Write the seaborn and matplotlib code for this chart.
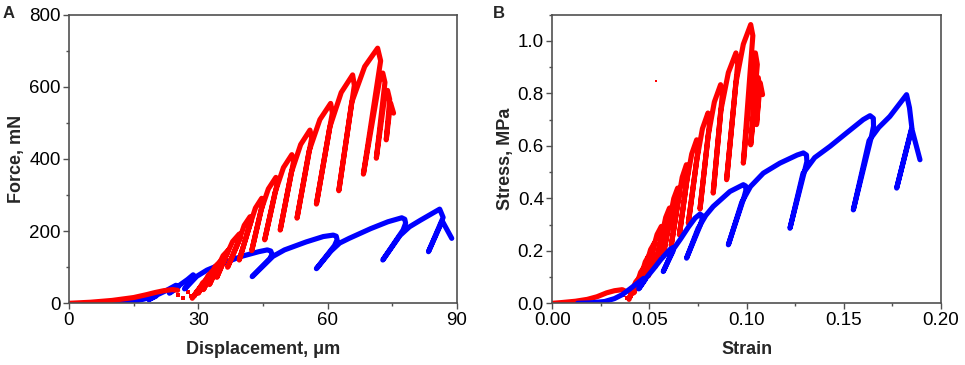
import matplotlib
matplotlib.use("Agg")
import matplotlib.pyplot as plt
from matplotlib.ticker import MultipleLocator
import seaborn as sns

# ---------------- Panel A: force vs displacement ----------------
# red sample, initial toe region
disp_red_low = [0, 5, 10, 15, 18, 20, 22, 24, 25.2]
force_red_low = [0, 3, 8, 16, 24, 30, 35, 38, 36]
# red scattered points
disp_red_dots = [25.4, 26.4, 27.5, 28.3]
force_red_dots = [23, 14, 30, 20]
# red sawtooth (peak / unload / reload)
disp_red = [28.6, 29.6, 30.5, 29.0, 30.2, 31.0, 31.8, 30.0, 31.4, 32.3, 33.2, 31.2, 32.8,
            33.9, 35.0, 32.6, 34.5, 35.75, 37.0, 34.3, 36.4, 37.95, 39.5, 39.8, 36.8, 39.3,
            40.65, 42.0, 42.3, 39.5, 41.8, 43.25, 44.7, 45.0, 42.4, 44.5, 46.25, 48.0, 48.35,
            45.4, 47.8, 49.75, 51.7, 52.1, 49.0, 51.6, 53.75, 55.9, 56.3, 52.9, 55.7, 58.2,
            60.7, 61.1, 57.4, 60.5, 63.15, 65.8, 66.2, 62.6, 65.6, 68.6, 71.6, 72.3, 68.3,
            72.0, 72.8, 73.3, 71.3, 73.1, 73.9, 74.4, 73.6, 74.6, 75.3]
force_red = [14, 32, 45, 20, 40, 56.5, 65, 28, 57, 77.5, 88, 38, 77,
             102, 115, 52, 101, 132, 148, 72, 130, 171, 192, 184, 100, 169,
             216, 240, 230, 120, 211, 264, 291, 279, 146, 256, 317, 349, 334,
             176, 307, 376, 412, 393, 203, 363, 440, 480, 458, 236, 422, 509,
             554, 528, 275, 488, 584, 633, 604, 312, 557, 656, 707, 672, 358,
             615, 638, 612, 402, 560, 590, 565, 453, 555, 527]
# blue sample
disp_blue = [9, 12, 15, 17.5, 19.5, 20.2, 18.5, 20.2, 22.5, 24.8, 25.4, 23.3, 25.4, 27.5,
             28.8, 29.4, 26.8, 29.4, 32, 36, 40, 44, 46, 46.8, 47.1, 46.6, 42.5, 45.6, 47.3,
             50, 55, 59, 61.3, 62.0, 62.2, 61.6, 57.4, 60.8, 62.8, 65, 70, 74, 77.2, 77.9,
             78.1, 77.5, 72.8, 76.8, 79, 81.5, 86.0, 86.8, 83.4, 86.6, 88.8]
force_blue = [0, 1, 5, 12, 22, 20, 10, 22, 35, 50, 46, 28, 48, 66,
              79, 72, 40, 73, 92, 112, 130, 143, 148, 145, 136, 124, 74, 110, 130,
              148, 170, 185, 189, 186, 176, 160, 96, 145, 167, 180, 207, 226, 237, 233,
              222, 203, 120, 188, 212, 230, 261, 238, 143, 228, 180]

# ---------------- Panel B: stress vs strain ----------------
strain_red_low = [0, 0.005, 0.012, 0.018, 0.023, 0.028, 0.032, 0.036, 0.038]
stress_red_low = [0, 0.003, 0.008, 0.015, 0.025, 0.040, 0.048, 0.052, 0.045]
strain_red_dots = [0.0365, 0.0383, 0.0395]
stress_red_dots = [0.032, 0.022, 0.018]
strain_red_stray = [0.0532]
stress_red_stray = [0.846]
strain_red = [0.0395, 0.0410, 0.0420, 0.0400, 0.0415, 0.0430, 0.0445, 0.0420, 0.0440, 0.04545,
              0.0470, 0.0442, 0.0463, 0.04785, 0.0494, 0.0465, 0.0487, 0.0506, 0.0525, 0.0495,
              0.0517, 0.0539, 0.0561, 0.0570, 0.0530, 0.0564, 0.05835, 0.0603, 0.0612, 0.0570,
              0.0605, 0.0625, 0.0645, 0.0654, 0.0612, 0.0647, 0.06685, 0.0690, 0.0699, 0.0654,
              0.0692, 0.07175, 0.0743, 0.0752, 0.0700, 0.0744, 0.07725, 0.0801, 0.0810, 0.0760,
              0.0802, 0.0834, 0.0866, 0.0875, 0.0828, 0.0867, 0.0906, 0.0945, 0.0954, 0.0897,
              0.0945, 0.0983, 0.1021, 0.1032, 0.0983, 0.1030, 0.1045, 0.1055, 0.1021, 0.1050,
              0.1060, 0.1065, 0.1051, 0.1070, 0.1082]
stress_red = [0.015, 0.045, 0.065, 0.025, 0.057, 0.082, 0.095, 0.040, 0.084, 0.118,
              0.135, 0.060, 0.119, 0.158, 0.178, 0.080, 0.157, 0.205, 0.229, 0.105,
              0.202, 0.262, 0.293, 0.280, 0.140, 0.258, 0.327, 0.363, 0.347, 0.180,
              0.320, 0.399, 0.439, 0.419, 0.220, 0.386, 0.480, 0.528, 0.504, 0.261,
              0.465, 0.569, 0.623, 0.595, 0.305, 0.548, 0.665, 0.725, 0.692, 0.359,
              0.638, 0.767, 0.833, 0.796, 0.420, 0.733, 0.879, 0.954, 0.911, 0.471,
              0.840, 0.987, 1.062, 1.020, 0.534, 0.900, 0.954, 0.910, 0.604, 0.820,
              0.860, 0.830, 0.681, 0.840, 0.795]
strain_blue = [0.013, 0.020, 0.027, 0.032, 0.036, 0.040, 0.044, 0.047, 0.0478, 0.0445, 0.0478,
               0.052, 0.056, 0.0605, 0.0620, 0.0622, 0.0571, 0.0622, 0.066, 0.070, 0.0735,
               0.0760, 0.0770, 0.0770, 0.0760, 0.0691, 0.0750, 0.0790, 0.0828, 0.0914, 0.0983,
               0.0995, 0.0996, 0.0985, 0.0906, 0.0975, 0.1020, 0.1086, 0.1171, 0.1260, 0.1292,
               0.1308, 0.1310, 0.1300, 0.1223, 0.1290, 0.1350, 0.1429, 0.1514, 0.1600, 0.1635,
               0.1652, 0.1653, 0.1642, 0.1549, 0.1630, 0.1680, 0.1737, 0.1823, 0.1838, 0.1850,
               0.1772, 0.1850, 0.1892]
stress_blue = [0.0, 0.002, 0.007, 0.018, 0.033, 0.055, 0.078, 0.095, 0.090, 0.055, 0.092,
               0.130, 0.168, 0.205, 0.212, 0.200, 0.121, 0.205, 0.245, 0.290, 0.325,
               0.340, 0.335, 0.318, 0.295, 0.172, 0.285, 0.335, 0.369, 0.426, 0.452,
               0.447, 0.430, 0.400, 0.223, 0.385, 0.445, 0.496, 0.534, 0.565, 0.573,
               0.565, 0.540, 0.510, 0.286, 0.495, 0.555, 0.598, 0.649, 0.700, 0.715,
               0.705, 0.675, 0.635, 0.356, 0.620, 0.670, 0.712, 0.795, 0.745, 0.670,
               0.439, 0.665, 0.547]

RED = "#ff0000"
BLUE = "#0000ff"

sns.set_theme(style="ticks")
plt.rcParams["font.family"] = ["Liberation Sans", "DejaVu Sans"]

fig = plt.figure(figsize=(9.65, 3.65), dpi=100)
axA = fig.add_axes([0.0715, 0.169, 0.402, 0.791])
axB = fig.add_axes([0.5723, 0.169, 0.4028, 0.791])

line_kw = dict(sort=False, estimator=None, linewidth=3.7,
               solid_capstyle="round", solid_joinstyle="round")

# panel A: blue below red
sns.lineplot(x=disp_blue, y=force_blue, color=BLUE, ax=axA, **line_kw)
sns.lineplot(x=disp_red_low, y=force_red_low, color=RED, ax=axA, **line_kw)
sns.lineplot(x=disp_red, y=force_red, color=RED, ax=axA, **line_kw)
sns.scatterplot(x=disp_red_dots, y=force_red_dots, color=RED, s=10, marker="s",
                linewidth=0, ax=axA)

# panel B: red below blue
sns.lineplot(x=strain_red_low, y=stress_red_low, color=RED, ax=axB, **line_kw)
sns.lineplot(x=strain_red, y=stress_red, color=RED, ax=axB, **line_kw)
sns.scatterplot(x=strain_red_dots, y=stress_red_dots, color=RED, s=8, marker="s",
                linewidth=0, ax=axB)
sns.scatterplot(x=strain_red_stray, y=stress_red_stray, color=RED, s=3, marker="s",
                linewidth=0, ax=axB)
sns.lineplot(x=strain_blue, y=stress_blue, color=BLUE, ax=axB, **line_kw)

axA.set_xlim(0, 90)
axA.set_ylim(0, 800)
axA.set_xticks([0, 30, 60, 90])
axA.set_yticks([0, 200, 400, 600, 800])
axA.xaxis.set_minor_locator(MultipleLocator(15))
axA.yaxis.set_minor_locator(MultipleLocator(100))
axA.set_xlabel("Displacement, \u03bcm", fontsize=13, fontweight="bold")
axA.set_ylabel("Force, mN", fontsize=13, fontweight="bold")

axB.set_xlim(0, 0.2)
axB.set_ylim(0, 1.1)
axB.set_xticks([0, 0.05, 0.10, 0.15, 0.20])
axB.set_xticklabels(["0.00", "0.05", "0.10", "0.15", "0.20"])
axB.set_yticks([0, 0.2, 0.4, 0.6, 0.8, 1.0])
axB.set_yticklabels(["0.0", "0.2", "0.4", "0.6", "0.8", "1.0"])
axB.xaxis.set_minor_locator(MultipleLocator(0.025))
axB.yaxis.set_minor_locator(MultipleLocator(0.1))
axB.set_xlabel("Strain", fontsize=13, fontweight="bold")
axB.set_ylabel("Stress, MPa", fontsize=13, fontweight="bold")

for ax in (axA, axB):
    for sp in ax.spines.values():
        sp.set_visible(True)
        sp.set_color("#505050")
        sp.set_linewidth(1.2)
    ax.tick_params(which="major", direction="out", length=4, width=1, color="#505050",
                   labelsize=13.5, labelcolor="black", pad=2)
    ax.tick_params(which="minor", direction="out", length=2.5, width=1, color="#505050")
    ax.xaxis.labelpad = 9
    ax.yaxis.labelpad = 3

fig.text(0.003, 0.951, "A", fontsize=12, fontweight="bold")
fig.text(0.511, 0.951, "B", fontsize=12, fontweight="bold")

fig.savefig("out.png", dpi=100)
